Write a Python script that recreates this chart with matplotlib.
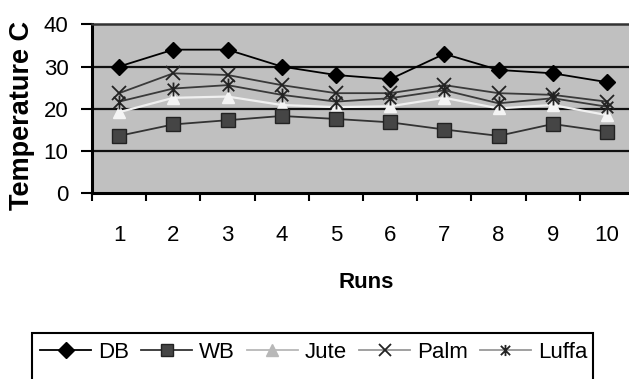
import matplotlib
matplotlib.use("Agg")
import matplotlib.pyplot as plt
import numpy as np
from matplotlib.patches import Rectangle
from matplotlib.path import Path

plt.rcParams['font.family'] = ['Liberation Sans', 'DejaVu Sans']

runs = [1, 2, 3, 4, 5, 6, 7, 8, 9, 10]
run_labels = ['1', '2', '3', '4', '5', '6', '7', '8', '9', '10']
db = [30, 34, 34, 30, 28, 27, 33, 29.2, 28.4, 26.3]
wb = [13.6, 16.3, 17.3, 18.3, 17.6, 16.8, 15.1, 13.6, 16.4, 14.6]
jute = [19.2, 22.6, 22.9, 20.9, 20.4, 20.6, 22.6, 20.1, 20.9, 18.5]
palm = [23.7, 28.4, 28.0, 25.6, 23.7, 23.7, 25.6, 23.7, 23.3, 21.7]
luffa = [21.7, 24.8, 25.6, 23.3, 21.7, 22.5, 24.4, 21.3, 22.5, 20.5]
yticks = [0, 10, 20, 30, 40]

W, H = 629, 379
fig = plt.figure(figsize=(W / 100, H / 100), dpi=100)
ax = fig.add_axes([92 / W, 1 - 193.3 / H, (634 - 92) / W, 169 / H])
ax.set_facecolor('#c0c0c0')

# asterisk marker: x plus vertical line
ast = Path([(-1, -1), (1, 1), (-1, 1), (1, -1), (0, -1.2), (0, 1.2)],
           [Path.MOVETO, Path.LINETO, Path.MOVETO, Path.LINETO, Path.MOVETO, Path.LINETO])

for v in [10, 20, 30]:
    ax.axhline(v, color='#111111', lw=1.6, zorder=1)

x = np.array(runs)
ax.plot(x, db, color='black', lw=1.3, marker='D', ms=8.5, mfc='black', mec='black', label='DB', zorder=5)
ax.plot(x, wb, color='#333333', lw=1.3, marker='s', ms=9.5, mfc='#454545', mec='#222222', label='WB', zorder=5)
ax.plot(x, jute, color='#f0f0f0', lw=1.6, marker='^', ms=9, mfc='#f4f4f4', mec='#f4f4f4', label='Jute', zorder=4)
ax.plot(x, palm, color='#3a3a3a', lw=1.3, marker='x', ms=10, mew=1.3, mec='#222222', label='Palm', zorder=4)
ax.plot(x, luffa, color='#3a3a3a', lw=1.3, marker=ast, ms=10, mew=1.3, mec='#222222', label='Luffa', zorder=4)

ax.set_xlim(0.5, 10.5)
ax.set_ylim(0, 40)
ax.set_yticks(yticks)
ax.set_yticklabels([str(t) for t in yticks], fontsize=16)
ax.tick_params(axis='y', length=8, width=1.5, pad=9, direction='out', color='black')

ax.set_xticks(np.arange(0.5, 11, 1))
ax.set_xticklabels([])
ax.tick_params(axis='x', which='major', length=6, width=1.5, direction='out')
ax.set_xticks(x, minor=True)
ax.set_xticklabels(run_labels, minor=True, fontsize=16)
ax.tick_params(axis='x', which='minor', length=0, pad=23)

for s in ['left', 'bottom']:
    ax.spines[s].set_linewidth(2.2)
    ax.spines[s].set_color('black')
ax.spines['top'].set_color('#333333')
ax.spines['top'].set_linewidth(1.8)
ax.spines['right'].set_visible(False)

ax.set_xlabel('Runs', fontsize=16, fontweight='bold')
ax.xaxis.set_label_coords((366 - 92) / 542, (193.3 - 283) / 169)
ax.xaxis.label.set_va('center')
ax.set_ylabel('Temperature C', fontsize=19.5, fontweight='bold')
ax.yaxis.set_label_coords((22 - 92) / 542, (193.3 - 116) / 169)
ax.yaxis.label.set_va('center')

# legend (lines lighter as in reference)
handles = [
    plt.Line2D([], [], color='black', lw=1.3, marker='D', ms=8, mfc='black', mec='black'),
    plt.Line2D([], [], color='#333333', lw=1.3, marker='s', ms=9, mfc='#454545', mec='#222222'),
    plt.Line2D([], [], color='#b8b8b8', lw=1.3, marker='^', ms=9, mfc='#b8b8b8', mec='#b8b8b8'),
    plt.Line2D([], [], color='#999999', lw=1.3, marker='x', ms=8, mew=1.3, mec='#222222'),
    plt.Line2D([], [], color='#999999', lw=1.3, marker=ast, ms=8, mew=1.3, mec='#222222'),
]
leg = fig.legend(handles, ['DB', 'WB', 'Jute', 'Palm', 'Luffa'], ncol=5, frameon=False,
                 loc='center right', bbox_to_anchor=(587 / W, 1 - 352 / H),
                 fontsize=16, handlelength=2.3, handletextpad=0.3, columnspacing=0.55,
                 borderpad=0, borderaxespad=0)
fig.canvas.draw()
bb = leg.get_window_extent()
left = bb.x0 - 8
fig.patches.append(Rectangle((left / W, -0.1), (593 - left) / W, (1 - 333 / H) + 0.1,
                             transform=fig.transFigure, fill=False, edgecolor='black', lw=1.5))

fig.savefig('out.png', dpi=100)
